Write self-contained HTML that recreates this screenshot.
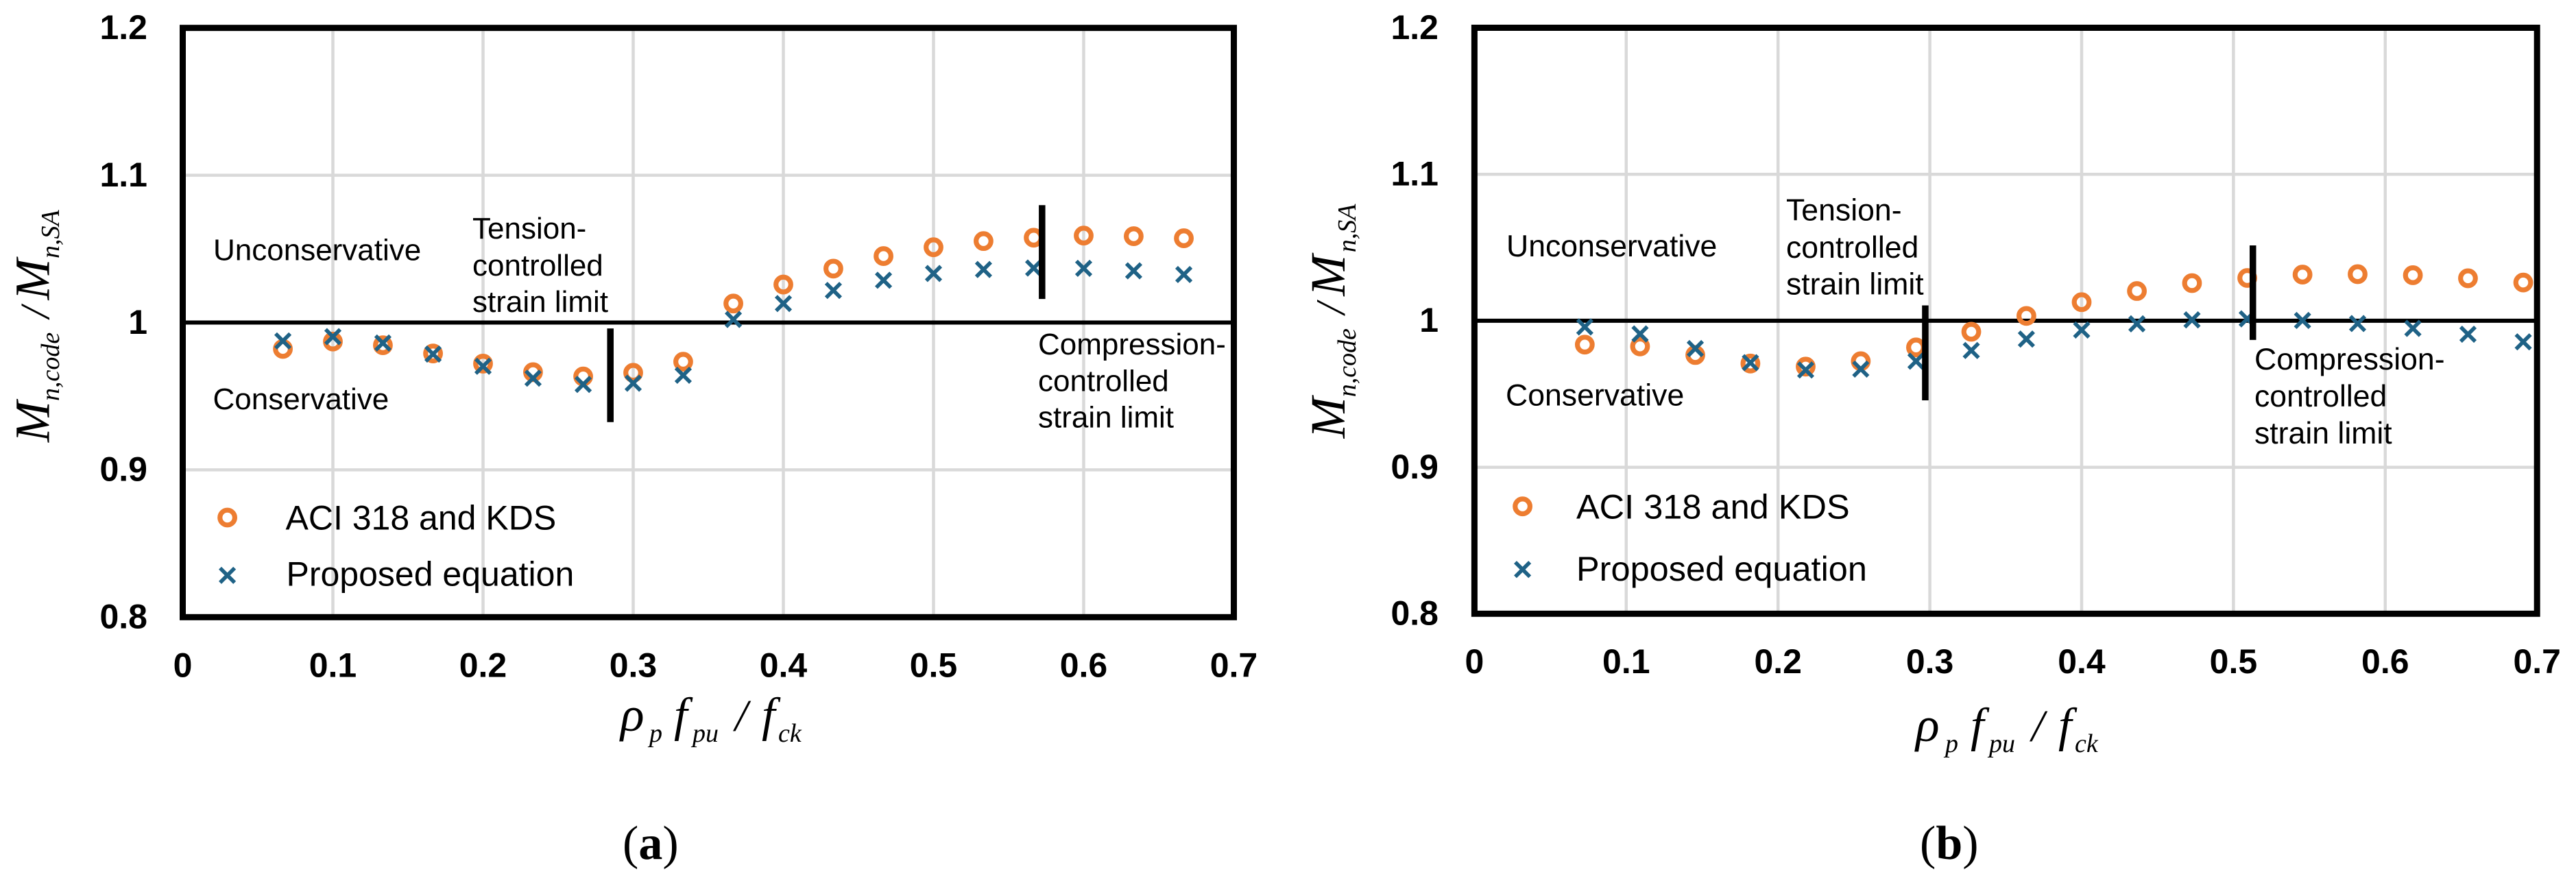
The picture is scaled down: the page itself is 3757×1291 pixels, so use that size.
<!DOCTYPE html>
<html lang="en">
<head>
<meta charset="utf-8">
<title>Mn,code / Mn,SA comparison charts</title>
<style>
html,body{margin:0;padding:0;background:#fff;width:3757px;height:1291px;overflow:hidden}
svg{display:block}
.note{font-family:"Liberation Sans",sans-serif;fill:#000}
.tick{font-family:"Liberation Sans",sans-serif;font-weight:700;font-size:50px;fill:#000}
.math{font-family:"Liberation Serif",serif;font-style:italic;fill:#000}
.cap{font-family:"Liberation Serif",serif;font-size:70px;fill:#000}
</style>
</head>
<body>
<svg id="figure" xmlns="http://www.w3.org/2000/svg" width="3757" height="1291" viewBox="0 0 3757 1291">
  <rect x="0" y="0" width="3757" height="1291" fill="#fff"/>
  <g id="panel-a"></g>
  <g id="panel-b"></g>

  <g class="note" font-size="44">
    <text x="311" y="379.5">Unconservative</text>
    <text x="310.5" y="597">Conservative</text>
    <text x="689"><tspan x="689" y="348">Tension-</tspan><tspan x="689" y="402">controlled</tspan><tspan x="689" y="455">strain limit</tspan></text>
    <text x="1514"><tspan x="1514" y="517">Compression-</tspan><tspan x="1514" y="570.5">controlled</tspan><tspan x="1514" y="623.7">strain limit</tspan></text>
    <text x="416.5" y="772.6" font-size="50">ACI 318 and KDS</text>
    <text x="417.5" y="854.4" font-size="50">Proposed equation</text>
  </g>
  <g class="note" font-size="44.6">
    <text x="2197" y="374">Unconservative</text>
    <text x="2196" y="591.5">Conservative</text>
    <text x="2605"><tspan x="2605" y="321.4">Tension-</tspan><tspan x="2605" y="376">controlled</tspan><tspan x="2605" y="429.5">strain limit</tspan></text>
    <text x="3288"><tspan x="3288" y="539">Compression-</tspan><tspan x="3288" y="593">controlled</tspan><tspan x="3288" y="647">strain limit</tspan></text>
    <text x="2299" y="756.3" font-size="50.5">ACI 318 and KDS</text>
    <text x="2299" y="847" font-size="50.5">Proposed equation</text>
  </g>

  <g class="math" transform="translate(71.4,645) rotate(-90)">
    <text x="0" y="0" font-size="72">M</text>
    <text x="60" y="14.6" font-size="38">n,code</text>
    <text x="181" y="0" font-size="60">/</text>
    <text x="207.5" y="0" font-size="72">M</text>
    <text x="268" y="14.6" font-size="38">n,SA</text>
  </g>
  <g class="math" transform="translate(1961,639.3) rotate(-90)">
    <text x="0" y="0" font-size="72">M</text>
    <text x="60" y="16" font-size="38">n,code</text>
    <text x="181" y="0" font-size="60">/</text>
    <text x="207.5" y="0" font-size="72">M</text>
    <text x="271" y="16" font-size="38">n,SA</text>
  </g>

  <g class="math">
    <text x="905" y="1066" font-size="72">ρ</text>
    <text x="947" y="1082" font-size="38">p</text>
    <text x="983" y="1066" font-size="70">f</text>
    <text x="1010" y="1082" font-size="38">pu</text>
    <text x="1072" y="1066" font-size="66">/</text>
    <text x="1111" y="1066" font-size="70">f</text>
    <text x="1135" y="1082" font-size="38">ck</text>
  </g>
  <g class="math">
    <text x="2794" y="1081" font-size="72">ρ</text>
    <text x="2837" y="1097" font-size="38">p</text>
    <text x="2874" y="1081" font-size="70">f</text>
    <text x="2901" y="1097" font-size="38">pu</text>
    <text x="2963" y="1081" font-size="66">/</text>
    <text x="3002" y="1081" font-size="70">f</text>
    <text x="3026" y="1097" font-size="38">ck</text>
  </g>

  <text class="cap" x="908" y="1253">(<tspan font-weight="700">a</tspan>)</text>
  <text class="cap" x="2800" y="1253">(<tspan font-weight="700">b</tspan>)</text>
</svg>

<script>
// Panel (a) data
const xTickLabels = ["0", "0.1", "0.2", "0.3", "0.4", "0.5", "0.6", "0.7"];
const yTickLabels = ["0.8", "0.9", "1", "1.1", "1.2"];
const xTickValues = [0, 0.1, 0.2, 0.3, 0.4, 0.5, 0.6, 0.7];
const yTickValues = [0.8, 0.9, 1.0, 1.1, 1.2];

const ratioA = [0.0667, 0.1, 0.1333, 0.1667, 0.2, 0.2333, 0.2667, 0.3, 0.3333, 0.3667, 0.4, 0.4333, 0.4667, 0.5, 0.5333, 0.5667, 0.6, 0.6333, 0.6667];
const aciA = [0.9821, 0.9871, 0.9846, 0.979, 0.9721, 0.9663, 0.9634, 0.9659, 0.9734, 1.0129, 1.0258, 1.0366, 1.0451, 1.0511, 1.0553, 1.0576, 1.059, 1.0586, 1.0572];
const proposedA = [0.9875, 0.9904, 0.9861, 0.9786, 0.9703, 0.9622, 0.958, 0.9588, 0.9642, 1.0021, 1.0129, 1.0218, 1.0287, 1.0333, 1.036, 1.037, 1.0368, 1.0351, 1.0326];
const limitXA = [0.2848, 0.5723];
const limitTopA = [0.996, 1.0797];
const limitBottomA = [0.9324, 1.016];

// Panel (b) data
const ratioB = [0.0727, 0.1091, 0.1455, 0.1818, 0.2182, 0.2545, 0.2909, 0.3273, 0.3636, 0.4, 0.4364, 0.4727, 0.5091, 0.5455, 0.5818, 0.6182, 0.6545, 0.6909];
const aciB = [0.9837, 0.9825, 0.9766, 0.9708, 0.9687, 0.9724, 0.9818, 0.9925, 1.0033, 1.0127, 1.0203, 1.0257, 1.0292, 1.0315, 1.0318, 1.0311, 1.029, 1.0261];
const proposedB = [0.9958, 0.991, 0.981, 0.9714, 0.9664, 0.967, 0.9724, 0.9797, 0.9875, 0.9937, 0.9979, 1.0006, 1.0013, 1.0002, 0.9981, 0.9948, 0.9908, 0.9856];
const limitXB = [0.297, 0.5128];
const limitTopB = [1.0105, 1.0514];
const limitBottomB = [0.9457, 0.9869];

const NS = "http://www.w3.org/2000/svg";
const ORANGE = "#ED7D31";
const TEAL = "#1F6286";
const GRID = "#D9D9D9";

function make(parent, tag) {
  const el = document.createElementNS(NS, tag);
  parent.appendChild(el);
  return el;
}

function drawLine(parent, x1, y1, x2, y2, color, width) {
  const el = make(parent, "line");
  el.setAttribute("x1", x1);
  el.setAttribute("y1", y1);
  el.setAttribute("x2", x2);
  el.setAttribute("y2", y2);
  el.setAttribute("stroke", color);
  el.setAttribute("stroke-width", width);
  return el;
}

function drawCircle(parent, cx, cy) {
  const el = make(parent, "circle");
  el.setAttribute("cx", cx);
  el.setAttribute("cy", cy);
  el.setAttribute("r", 10.8);
  el.setAttribute("fill", "none");
  el.setAttribute("stroke", ORANGE);
  el.setAttribute("stroke-width", 7.2);
  return el;
}

function drawCross(parent, cx, cy) {
  const el = make(parent, "path");
  const a = 10.6;
  el.setAttribute("d", "M" + (cx - a) + " " + (cy - a) + "L" + (cx + a) + " " + (cy + a) + "M" + (cx - a) + " " + (cy + a) + "L" + (cx + a) + " " + (cy - a));
  el.setAttribute("fill", "none");
  el.setAttribute("stroke", TEAL);
  el.setAttribute("stroke-width", 5.6);
  return el;
}

function drawPanel(root, xOf, yOf, opt) {
  // gridlines
  xTickValues.forEach(function (v) {
    if (v === 0 || v === 0.7) return;
    const g = drawLine(root, xOf(v), yOf(1.2), xOf(v), yOf(0.8), GRID, 4.5);
    
    
  });
  yTickValues.forEach(function (v) {
    if (v === 0.8 || v === 1.2 || v === 1.0) return;
    const g = drawLine(root, xOf(0), yOf(v), xOf(0.7), yOf(v), GRID, 4.5);
    
    
  });

  // reference line at ratio = 1
  const ref = drawLine(root, xOf(0), yOf(1), xOf(0.7), yOf(1), "#000", 6);
  
  

  // plot frame
  const frame = make(root, "rect");
  frame.setAttribute("x", xOf(0));
  frame.setAttribute("y", yOf(1.2));
  frame.setAttribute("width", xOf(0.7) - xOf(0));
  frame.setAttribute("height", yOf(0.8) - yOf(1.2));
  frame.setAttribute("fill", "none");
  frame.setAttribute("stroke", "#000");
  frame.setAttribute("stroke-width", 9);
  
  

  // series markers
  opt.ratio.forEach(function (r, i) {
    const c = drawCircle(root, xOf(r), yOf(opt.aci[i]));
    
    
  });
  opt.ratio.forEach(function (r, i) {
    const m = drawCross(root, xOf(r), yOf(opt.proposed[i]));
    
    
  });

  // strain limit bars
  opt.limitX.forEach(function (v, i) {
    const l = drawLine(root, xOf(v), yOf(opt.limitTop[i]), xOf(v), yOf(opt.limitBottom[i]), "#000", 9.5);
    
    
  });

  // tick labels
  xTickLabels.forEach(function (label, i) {
    const t = make(root, "text");
    t.setAttribute("class", "tick");
    t.setAttribute("x", xOf(xTickValues[i]));
    t.setAttribute("y", opt.xTickBaseline);
    t.setAttribute("text-anchor", "middle");
    t.textContent = label;
    
    
  });
  yTickLabels.forEach(function (label, i) {
    const t = make(root, "text");
    t.setAttribute("class", "tick");
    t.setAttribute("x", opt.yTickRight);
    t.setAttribute("y", yOf(yTickValues[i]) + opt.yTickDrop);
    t.setAttribute("text-anchor", "end");
    t.textContent = label;
    
    
  });

  // legend markers
  const lc = drawCircle(root, opt.legendX, opt.legendY1);
  
  
  const lx = drawCross(root, opt.legendX, opt.legendY2);
  
  
}

drawPanel(
  document.getElementById("panel-a"),
  function (v) { return 266.5 + v * 2190; },
  function (v) { return 470.5 - (v - 1) * 2149; },
  {
    ratio: ratioA, aci: aciA, proposed: proposedA,
    limitX: limitXA, limitTop: limitTopA, limitBottom: limitBottomA,
    xTickBaseline: 987.7, yTickRight: 215, yTickDrop: 16.3,
    legendX: 331.6, legendY1: 755, legendY2: 839.3
  }
);

drawPanel(
  document.getElementById("panel-b"),
  function (v) { return 2150.4 + v * 2214; },
  function (v) { return 467.9 - (v - 1) * 2137; },
  {
    ratio: ratioB, aci: aciB, proposed: proposedB,
    limitX: limitXB, limitTop: limitTopB, limitBottom: limitBottomB,
    xTickBaseline: 982, yTickRight: 2098, yTickDrop: 16.3,
    legendX: 2220.6, legendY1: 738.7, legendY2: 830.7
  }
);
</script>
</body>
</html>
